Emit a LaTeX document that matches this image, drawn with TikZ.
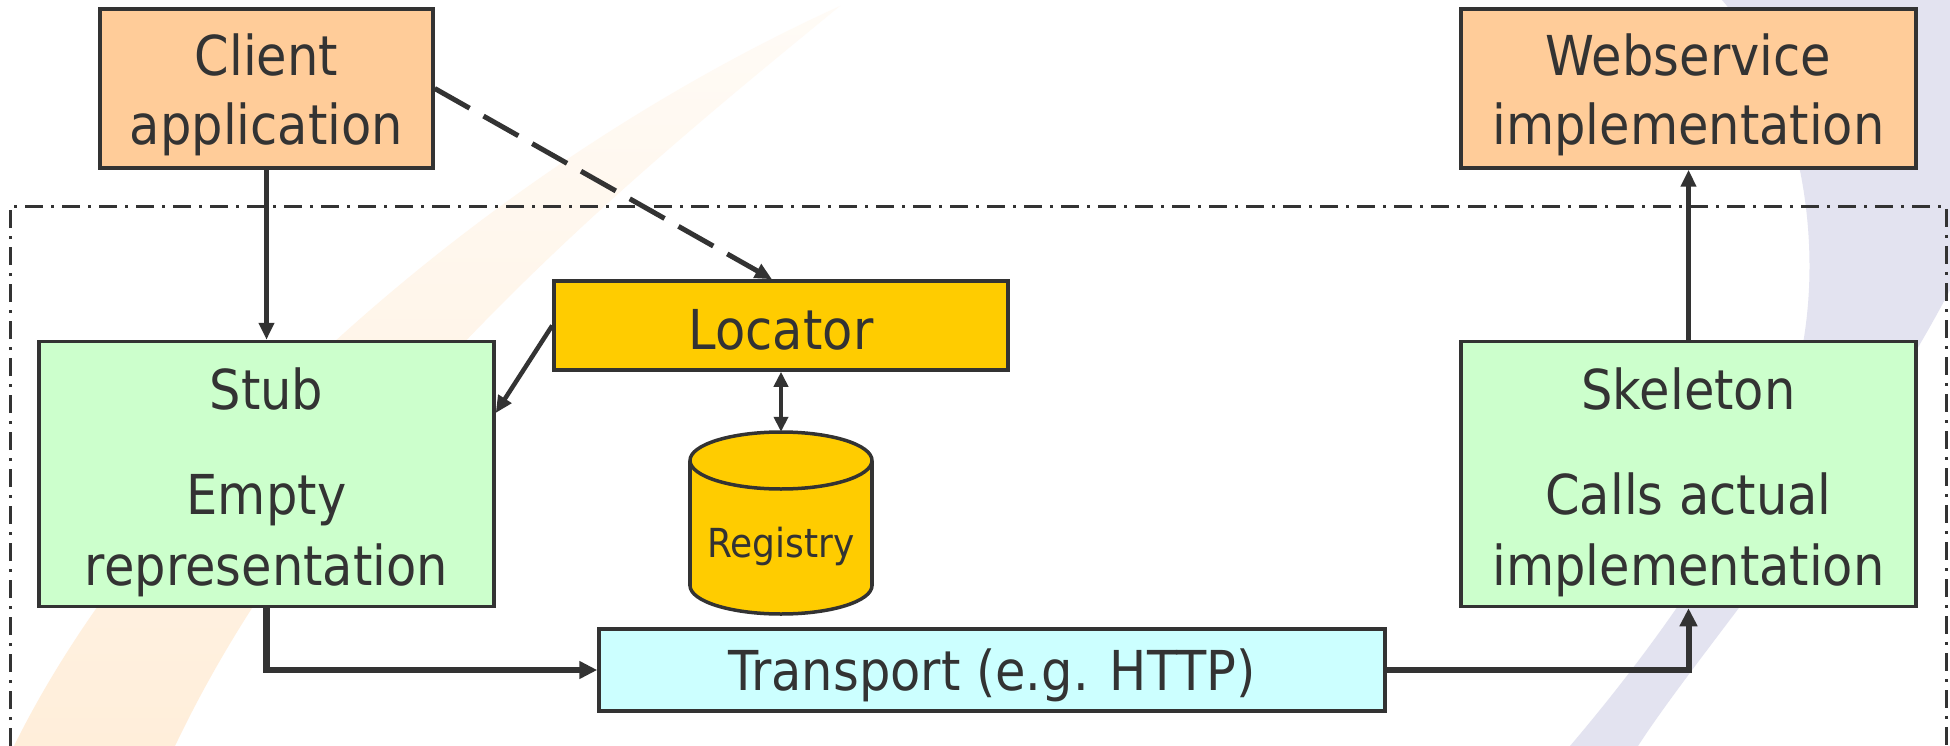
\documentclass[tikz,border=0pt]{standalone}
\usepackage{fontspec}
\setmainfont{DejaVu Sans}[FakeStretch=0.9]
\usetikzlibrary{arrows.meta}
\definecolor{peach}{HTML}{FFCC99}
\definecolor{mint}{HTML}{CCFFCC}
\definecolor{gold}{HTML}{FFCC00}
\definecolor{aqua}{HTML}{CCFFFF}
\definecolor{ink}{HTML}{333333}
\definecolor{lav}{HTML}{E3E3F0}
\definecolor{swA}{RGB}{255,238,218}
\definecolor{swB}{RGB}{255,251,246}
\begin{document}
\begin{tikzpicture}[x=1pt,y=-1pt,
  box/.style={draw=ink, line width=3.5pt, inner sep=0pt},
  txt/.style={anchor=base, inner sep=0pt, text=ink, font=\fontsize{55}{66}\selectfont},
  smalltxt/.style={anchor=base, inner sep=0pt, text=ink, font=\fontsize{40}{48}\selectfont},
  conn/.style={draw=ink, line width=4.5pt, -{Triangle[length=17pt,width=15pt]}},
  heavy/.style={draw=ink, line width=6.5pt, line join=miter, -{Triangle[length=18pt,width=17pt]}},
  frame/.style={draw=ink, line width=3pt, dash pattern=on 18pt off 8pt on 3pt off 8pt}]
\useasboundingbox (0,0) rectangle (1950,746);
\clip (0,0) rectangle (1950,746);
\fill[white] (0,0) rectangle (1950,746);
% background swooshes
\shade[top color=swB, bottom color=swA] (14,746) .. controls (150,470) and (480,170) .. (840,6)
  .. controls (640,170) and (330,420) .. (175,746) -- cycle;
\fill[lav] (1722,0) .. controls (1800,90) and (1830,250) .. (1795,380)
  .. controls (1760,500) and (1660,640) .. (1570,746) -- (1638,746)
  .. controls (1700,650) and (1850,480) .. (1950,290) -- (1950,0) -- cycle;
% dash-dot frame
\draw[frame] (10,746) -- (10,206) -- (1946,206) -- (1946,746);
% boxes
\node[box, fill=peach, minimum width=333pt, minimum height=159pt] (client) at (266.5,88.5) {};
\node[box, fill=peach, minimum width=455pt, minimum height=159pt] (ws) at (1688.5,88.5) {};
\node[box, fill=gold, minimum width=454pt, minimum height=89pt] (loc) at (781,325.5) {};
\node[box, fill=mint, minimum width=455pt, minimum height=265pt] (stub) at (266.5,474) {};
\node[box, fill=mint, minimum width=455pt, minimum height=265pt] (skel) at (1688.5,474) {};
\node[box, fill=aqua, minimum width=786pt, minimum height=82pt] (trans) at (992,670) {};
% registry cylinder
\node[inner sep=0pt, minimum width=182pt, minimum height=182pt] (reg) at (781,523) {};
\fill[gold] (690,460.5) rectangle (872,585.5);
\fill[gold] (781,585.5) ellipse[x radius=91, y radius=28.5];
\draw[ink, line width=3.5pt] (690,460.5) -- (690,585.5) (872,460.5) -- (872,585.5);
\begin{scope}
  \clip (680,585.5) rectangle (882,630);
  \draw[ink, line width=3.5pt] (781,585.5) ellipse[x radius=91, y radius=28.5];
\end{scope}
\draw[ink, line width=3.5pt, fill=gold] (781,460.5) ellipse[x radius=91, y radius=28.5];
% texts
\node[txt] (clientA) at (266.5,76) {Client};
\node[txt] (clientB) at (266.5,145) {application};
\node[txt] (wsA) at (1688.5,76) {Webservice};
\node[txt] (wsB) at (1688.5,145) {implementation};
\node[txt] (locA) at (781,349) {Locator};
\node[txt] (stubA) at (266.5,409.5) {Stub};
\node[txt] (stubB) at (266.5,514.5) {Empty};
\node[txt] (stubC) at (266.5,585) {representation};
\node[txt] (skelA) at (1688.5,409.5) {Skeleton};
\node[txt] (skelB) at (1688.5,514.5) {Calls actual};
\node[txt] (skelC) at (1688.5,585) {implementation};
\node[smalltxt] (regA) at (781,557) {Registry};
\node[txt] (transA) at (992,690) {Transport (e.g. HTTP)};
% connectors
\draw[conn] (client.south) -- (stub.north);
\draw[conn, line width=5pt, dash pattern=on 40pt off 16pt] (client.east) -- ([xshift=-9pt]loc.north);
\draw[conn] (loc.west) -- ([yshift=61pt]stub.east);
\draw[draw=ink, line width=4.5pt, {Triangle[length=15pt,width=14pt]}-{Triangle[length=15pt,width=14pt]}] (loc.south) -- (reg.north);
\draw[heavy] (stub.south) |- (trans.west);
\draw[heavy, line width=6pt] (trans.east) -| (skel.south);
\draw[conn] (skel.north) -- (ws.south);
\end{tikzpicture}
\end{document}
